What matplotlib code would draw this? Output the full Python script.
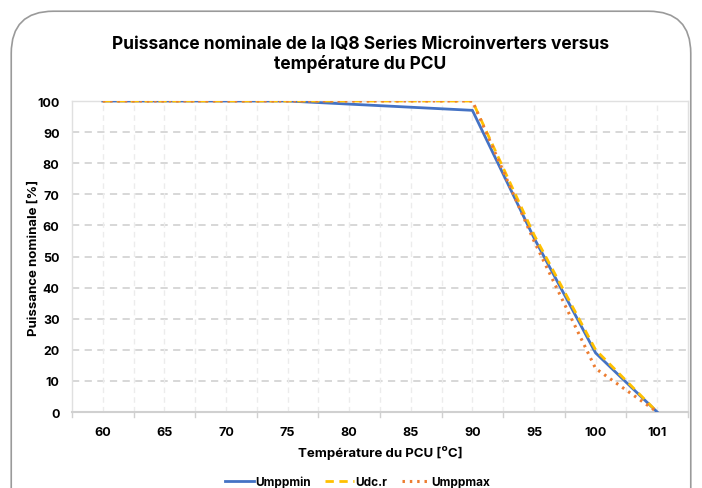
import numpy as np
import matplotlib.pyplot as plt
from matplotlib.patches import FancyBboxPatch

# Data
temperatures = ["60", "65", "70", "75", "80", "85", "90", "95", "100", "101"]
umppmin = [100, 100, 100, 100, 99, 98, 97, 56, 19, 0]
udc_r = [100, 100, 100, 100, 100, 100, 100, 57, 20, 0]
umppmax = [100, 100, 100, 100, 100, 100, 100, 55, 14, 0]
y_ticks = list(range(0, 101, 10))

plt.rcParams['font.family'] = ['Inter', 'DejaVu Sans']

fig = plt.figure(figsize=(7.02, 4.89), dpi=100)

# rounded frame around the chart
frame = FancyBboxPatch((0.016, -0.2), 0.968, 1.175,
                       boxstyle="round,pad=0,rounding_size=0.06",
                       transform=fig.transFigure, facecolor='none',
                       edgecolor='#9a9a9a', linewidth=1.2,
                       mutation_aspect=702 / 489, zorder=-1)
fig.patches.append(frame)

ax = fig.add_axes([0.1026, 0.1554, 0.8774, 0.636])
ax.patch.set_alpha(0)
x = np.arange(len(temperatures))

ax.plot(x, umppmin, color='#4472C4', lw=2, label='Umppmin', zorder=3)
ax.plot(x, udc_r, color='#FFC000', lw=2, ls=(0, (3, 2)), label='Udc.r', zorder=4)
ax.plot(x, umppmax, color='#ED7D31', lw=2.2, ls=(0, (0.8, 1.6)), label='Umppmax', zorder=5)

ax.set_xlim(-0.5, len(temperatures) - 0.5)
ax.set_ylim(0, 100)
ax.set_xticks(x)
ax.set_xticklabels(temperatures, fontweight='bold', fontsize=9)
ax.set_yticks(y_ticks)
ax.set_yticklabels([str(v) for v in y_ticks], fontweight='bold', fontsize=9)
ax.tick_params(axis='x', length=0, pad=10)
ax.tick_params(axis='y', length=0, pad=9)

# category boundary ticks on the x axis
for b in np.arange(-0.5, len(temperatures), 1.0):
    ax.plot([b, b], [0, -1.5], color='#d0d0d0', lw=1, clip_on=False)

# gridlines
for v in y_ticks[1:-1]:
    ax.axhline(v, color='#d4d4d4', lw=1.3, ls=(0, (4, 3)), zorder=1)
for v in np.arange(0, len(temperatures) - 0.5, 0.5):
    ax.axvline(v, color='#ececec', lw=1, ls=(0, (4, 3)), zorder=1)

for side in ['left', 'right', 'top']:
    ax.spines[side].set_color('#e0e0e0')
    ax.spines[side].set_linewidth(1)
ax.spines['bottom'].set_color('#d0d0d0')
ax.spines['bottom'].set_linewidth(1.5)

ax.set_xlabel('Température du PCU [⁰C]', fontweight='bold', fontsize=9.5, labelpad=5)
ax.set_ylabel('Puissance nominale [%]', fontweight='bold', fontsize=9.5, labelpad=-2)

fig.text(0.513, 0.888, 'Puissance nominale de la IQ8 Series Microinverters versus\ntempérature du PCU',
         ha='center', va='center', fontsize=12.5, fontweight='bold', linespacing=1.15)

fig.legend(loc='center', bbox_to_anchor=(0.51, 0.012), ncol=3, frameon=False,
           prop={'weight': 'bold', 'size': 8.5}, handlelength=2.4,
           handletextpad=0.15, columnspacing=1.2)

fig.savefig('out.png', dpi=100)
